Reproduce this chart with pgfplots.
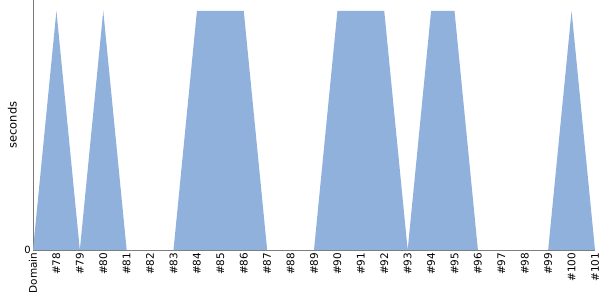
\documentclass[border=0pt]{standalone}
\usepackage{pgfplots}
\pgfplotsset{compat=1.18}
\usepackage{fontspec}
\setmainfont{DejaVu Sans}
\definecolor{areablue}{RGB}{143,177,219}
\definecolor{spine}{RGB}{120,120,120}
\begin{document}
\begin{tikzpicture}[x=1bp,y=1bp]
\begin{axis}[
  at={(0,0)}, anchor=south west,
  scale only axis,
  width=562bp, height=250bp,
  xmin=0, xmax=24, ymin=0, ymax=1.046,
  axis lines*=left,
  axis line style={spine, line width=0.8pt},
  ytick={0}, yticklabels={0},
  xtick={0,...,24},
  xticklabels={Domain,\#78,\#79,\#80,\#81,\#82,\#83,\#84,\#85,\#86,\#87,\#88,\#89,\#90,\#91,\#92,\#93,\#94,\#95,\#96,\#97,\#98,\#99,\#100,\#101},
  xticklabel style={rotate=90, anchor=east, font=\fontsize{10.5}{12}\selectfont, inner sep=2.5pt},
  yticklabel style={font=\fontsize{10}{12}\selectfont, inner sep=2pt},
  major tick length=0pt,
  ylabel={seconds},
  ylabel style={font=\fontsize{11.5}{13}\selectfont, at={(axis description cs:-0.0285,0.5)}, anchor=south, inner sep=0pt},
  /pgf/number format/assume math mode=true,
  clip=false,
]
\addplot[fill=areablue, draw=none] coordinates {
(0,0) (1,1) (2,0) (3,1) (4,0) (5,0) (6,0) (7,1) (8,1) (9,1) (10,0) (11,0) (12,0) (13,1) (14,1) (15,1) (16,0) (17,1) (18,1) (19,0) (20,0) (21,0) (22,0) (23,1) (24,0)
} \closedcycle;
\end{axis}
\pgfresetboundingbox
\useasboundingbox (-33bp,-50bp) rectangle (567bp,250bp);
\end{tikzpicture}
\end{document}
